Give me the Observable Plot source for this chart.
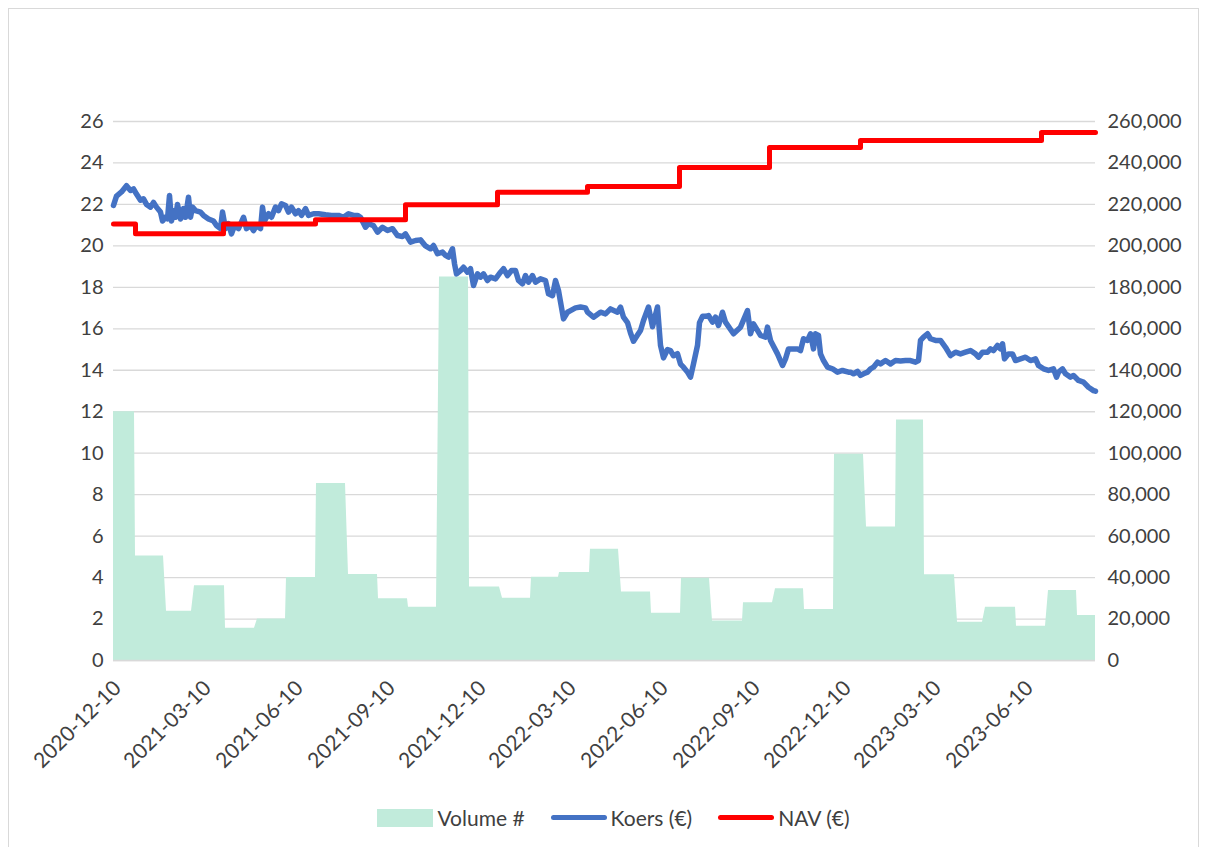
<!DOCTYPE html>
<html>
<head>
<meta charset="utf-8">
<script src="https://cdn.jsdelivr.net/npm/d3@7"></script>
<script src="https://cdn.jsdelivr.net/npm/@observablehq/plot@0.6"></script>
<style>
  html, body { margin: 0; padding: 0; background: #fff; }
  body { width: 1207px; height: 847px; position: relative; overflow: hidden; font-family: Lato, "Open Sans", sans-serif; }
  #frame { position: absolute; left: 8px; top: 8px; width: 1191px; height: 860px; border: 1px solid #d9d9d9; box-sizing: border-box; }
  #chart { position: absolute; left: 0; top: 0; }
  #legend { position: absolute; left: 10px; top: 805px; width: 1207px; display: flex; justify-content: center; align-items: center; font-size: 21px; color: #404040; }
  .item { display: flex; align-items: center; margin: 0 13px; }
  .sw { display: inline-block; width: 56px; margin-right: 4px; }
</style>
</head>
<body>
<div id="frame"></div>
<div id="chart"></div>
<div id="legend"></div>
<script>
// ---- Data ----
const domainStart = "2020-12-10";
const domainEnd = "2023-08-19";

const xTickDates = ["2020-12-10","2021-03-10","2021-06-10","2021-09-10","2021-12-10","2022-03-10",
  "2022-06-10","2022-09-10","2022-12-10","2023-03-10","2023-06-10"];

const yTicks = [0,2,4,6,8,10,12,14,16,18,20,22,24,26];

const volumeMonths = ["2020-12","2021-01","2021-02","2021-03","2021-04","2021-05","2021-06","2021-07",
  "2021-08","2021-09","2021-10","2021-11","2021-12","2022-01","2022-02","2022-03","2022-04","2022-05",
  "2022-06","2022-07","2022-08","2022-09","2022-10","2022-11","2022-12","2023-01","2023-02","2023-03",
  "2023-04","2023-05","2023-06","2023-07","2023-08"];
const volumeValues = [120000,50400,23800,36000,15600,20000,40000,85400,41500,29800,25700,185000,35400,
  30000,40100,42400,53700,33000,22800,39700,19000,27800,34600,24600,99500,64400,116000,41400,18500,
  25700,16500,33800,21700];

const navDates = ["2020-12-10","2021-01-01","2021-03-30","2021-06-30","2021-09-28","2021-12-29",
  "2022-03-29","2022-06-29","2022-09-27","2022-12-27","2023-06-26"];
const navValues = [21.05,20.58,21.05,21.26,21.98,22.59,22.87,23.78,24.75,25.08,25.47];

const koers = [
["2020-12-10",21.95],["2020-12-13",22.4],["2020-12-18",22.6],["2020-12-23",22.9],["2020-12-27",22.67],["2020-12-30",22.75],
["2021-01-02",22.5],["2021-01-06",22.2],["2021-01-09",22.27],["2021-01-12",22.0],["2021-01-16",21.87],["2021-01-19",22.1],["2021-01-22",21.87],["2021-01-26",21.63],["2021-01-28",21.2],["2021-01-31",21.38],
["2021-02-02",21.3],["2021-02-04",22.43],["2021-02-06",21.2],["2021-02-08",21.7],["2021-02-10",21.38],["2021-02-12",22.0],["2021-02-15",21.3],["2021-02-18",21.8],["2021-02-20",21.38],["2021-02-23",22.35],["2021-02-25",21.38],["2021-02-27",21.87],
["2021-03-02",21.7],["2021-03-07",21.63],["2021-03-10",21.47],["2021-03-15",21.3],["2021-03-20",21.2],["2021-03-23",20.98],["2021-03-27",20.83],["2021-03-29",21.63],
["2021-04-01",20.83],["2021-04-04",21.07],["2021-04-07",20.58],["2021-04-10",20.98],["2021-04-14",20.83],["2021-04-19",21.38],["2021-04-22",20.83],["2021-04-26",20.98],["2021-04-29",20.74],
["2021-05-02",20.98],["2021-05-06",20.83],["2021-05-08",21.87],["2021-05-10",21.2],["2021-05-14",21.55],["2021-05-17",21.38],["2021-05-21",21.87],["2021-05-24",21.7],["2021-05-27",22.03],["2021-05-31",21.95],
["2021-06-03",21.63],["2021-06-06",21.87],["2021-06-10",21.55],["2021-06-13",21.7],["2021-06-16",21.47],["2021-06-20",21.8],["2021-06-23",21.47],["2021-06-28",21.55],
["2021-07-03",21.55],["2021-07-10",21.5],["2021-07-16",21.47],["2021-07-23",21.47],["2021-07-28",21.38],
["2021-08-02",21.55],["2021-08-07",21.47],["2021-08-11",21.47],["2021-08-14",21.38],["2021-08-19",20.9],["2021-08-22",21.07],["2021-08-27",20.98],["2021-08-31",20.66],
["2021-09-05",20.9],["2021-09-10",20.74],["2021-09-15",20.83],["2021-09-20",20.5],["2021-09-25",20.45],["2021-09-28",20.58],
["2021-10-03",20.18],["2021-10-08",20.26],["2021-10-13",20.29],["2021-10-18",20.0],["2021-10-23",19.86],["2021-10-26",20.02],["2021-10-30",19.62],
["2021-11-04",19.7],["2021-11-07",19.54],["2021-11-10",19.46],["2021-11-14",19.86],["2021-11-16",19.14],["2021-11-18",18.65],["2021-11-22",18.81],["2021-11-25",18.97],["2021-11-29",18.73],
["2021-12-02",18.9],["2021-12-05",18.09],["2021-12-09",18.65],["2021-12-12",18.49],["2021-12-15",18.65],["2021-12-19",18.33],["2021-12-22",18.49],["2021-12-27",18.41],
["2022-01-01",18.73],["2022-01-04",18.9],["2022-01-08",18.57],["2022-01-12",18.81],["2022-01-16",18.81],["2022-01-19",18.33],["2022-01-23",18.17],["2022-01-26",18.57],["2022-01-29",18.25],
["2022-02-02",18.57],["2022-02-05",18.25],["2022-02-10",18.41],["2022-02-15",18.33],["2022-02-18",17.69],["2022-02-22",17.6],["2022-02-25",18.33],["2022-02-28",17.85],
["2022-03-05",16.48],["2022-03-09",16.8],["2022-03-12",16.88],["2022-03-17",17.01],["2022-03-22",17.05],["2022-03-27",17.01],["2022-03-29",16.8],
["2022-04-04",16.56],["2022-04-11",16.8],["2022-04-16",16.72],["2022-04-21",16.96],["2022-04-28",16.8],
["2022-05-01",17.05],["2022-05-04",16.56],["2022-05-08",16.3],["2022-05-11",15.8],["2022-05-14",15.4],["2022-05-18",15.7],["2022-05-21",15.92],["2022-05-24",16.4],["2022-05-29",17.05],
["2022-06-02",16.1],["2022-06-07",17.05],["2022-06-10",15.2],["2022-06-13",14.6],["2022-06-17",15.0],["2022-06-20",14.95],["2022-06-23",14.7],["2022-06-27",14.8],["2022-06-30",14.3],
["2022-07-03",14.15],["2022-07-07",13.91],["2022-07-10",13.67],["2022-07-13",14.31],["2022-07-17",15.2],["2022-07-19",16.3],["2022-07-22",16.6],["2022-07-25",16.6],["2022-07-28",16.64],
["2022-08-01",16.32],["2022-08-04",16.56],["2022-08-07",16.16],["2022-08-11",16.8],["2022-08-14",16.32],["2022-08-22",15.76],["2022-08-29",16.08],
["2022-09-05",16.88],["2022-09-08",15.76],["2022-09-11",16.24],["2022-09-18",15.68],["2022-09-23",15.6],["2022-09-25",16.08],["2022-09-28",15.44],
["2022-10-05",14.79],["2022-10-10",14.23],["2022-10-13",14.55],["2022-10-16",15.03],["2022-10-25",15.03],["2022-10-28",14.95],["2022-10-31",15.52],
["2022-11-04",15.44],["2022-11-07",15.76],["2022-11-10",15.03],["2022-11-12",15.76],["2022-11-15",15.68],["2022-11-17",14.79],["2022-11-20",14.47],["2022-11-24",14.15],["2022-11-29",14.07],
["2022-12-04",13.91],["2022-12-09",13.99],["2022-12-15",13.91],["2022-12-17",13.91],["2022-12-20",13.83],["2022-12-24",13.95],["2022-12-27",13.75],["2022-12-30",13.83],
["2023-01-03",13.91],["2023-01-06",14.07],["2023-01-09",14.15],["2023-01-13",14.39],["2023-01-16",14.31],["2023-01-21",14.47],["2023-01-26",14.31],["2023-01-31",14.47],
["2023-02-05",14.45],["2023-02-10",14.47],["2023-02-15",14.47],["2023-02-20",14.39],["2023-02-23",14.47],["2023-02-25",15.44],["2023-02-28",15.6],
["2023-03-04",15.76],["2023-03-07",15.52],["2023-03-12",15.44],["2023-03-17",15.44],["2023-03-22",15.11],["2023-03-27",14.71],
["2023-04-01",14.87],["2023-04-06",14.79],["2023-04-11",14.87],["2023-04-16",14.95],["2023-04-21",14.79],["2023-04-24",14.63],["2023-04-28",14.87],
["2023-05-03",14.87],["2023-05-06",15.03],["2023-05-09",14.95],["2023-05-13",15.2],["2023-05-16",15.03],["2023-05-18",15.28],["2023-05-20",14.55],["2023-05-24",14.79],["2023-05-28",14.79],["2023-05-31",14.47],
["2023-06-05",14.55],["2023-06-10",14.63],["2023-06-15",14.47],["2023-06-20",14.55],["2023-06-23",14.23],["2023-06-28",14.07],
["2023-07-03",13.99],["2023-07-08",14.07],["2023-07-11",13.67],["2023-07-13",13.91],["2023-07-17",14.07],["2023-07-20",13.83],["2023-07-25",13.67],["2023-07-28",13.75],
["2023-08-02",13.51],["2023-08-07",13.43],["2023-08-12",13.18],["2023-08-17",13.02],["2023-08-19",12.99]
];

const colors = { volume: "#c1ebdb", koers: "#4472c4", nav: "#ff0000", grid: "#d9d9d9", text: "#404040" };
const volumeScale = 10000; // right axis = left axis * 10000

// ---- Build tables ----
const parse = s => new Date(s + "T00:00:00Z");
const x0 = parse(domainStart), x1 = parse(domainEnd);

// volume: each month spans its first to last weekday (area connects across weekends)
const volPts = [];
volumeMonths.forEach((m, i) => {
  const [yy, mm] = m.split("-").map(Number);
  let a = new Date(Date.UTC(yy, mm - 1, 1));
  let b = new Date(Date.UTC(yy, mm, 0));
  while (a.getUTCDay() === 0 || a.getUTCDay() === 6) a = new Date(+a + 864e5);
  while (b.getUTCDay() === 0 || b.getUTCDay() === 6) b = new Date(+b - 864e5);
  if (a < x0) a = x0;
  if (b > x1) b = x1;
  volPts.push({date: a, v: volumeValues[i] / volumeScale});
  volPts.push({date: b, v: volumeValues[i] / volumeScale});
});

const koersData = koers.map(([d, v]) => ({date: parse(d), v}));
const navData = navDates.map((d, i) => ({date: parse(d), v: navValues[i]}));
navData.push({date: x1, v: navValues[navValues.length - 1]});

const chart = Plot.plot({
  width: 1207,
  height: 790,
  marginLeft: 113,
  marginRight: 112,
  marginTop: 121,
  marginBottom: 130,
  style: { fontFamily: "Lato, 'Open Sans', sans-serif", fontSize: "20px", color: colors.text, background: "transparent" },
  x: { type: "utc", domain: [x0, x1] },
  y: { domain: [0, 26] },
  marks: [
    Plot.ruleY(yTicks, { stroke: colors.grid, strokeWidth: 1.3 }),
    Plot.areaY(volPts, { x: "date", y: "v", fill: colors.volume, curve: "linear" }),
    Plot.ruleY([0], { stroke: colors.grid, strokeWidth: 1.3 }),
    Plot.line(koersData, { x: "date", y: "v", stroke: colors.koers, strokeWidth: 5.5, strokeLinejoin: "round", curve: "linear" }),
    Plot.line(navData, { x: "date", y: "v", stroke: colors.nav, strokeWidth: 5, curve: "step-after" }),
    Plot.axisY(yTicks, { anchor: "left", tickSize: 0, tickPadding: 10, label: null }),
    Plot.axisY(yTicks, { anchor: "right", tickSize: 0, tickPadding: 12, label: null,
      tickFormat: d => d3.format(",")(d * volumeScale) }),
    Plot.axisX(xTickDates.map(parse), { anchor: "bottom", tickSize: 0, tickPadding: 24, dx: 4, tickRotate: -45,
      fontSize: 21, tickFormat: d3.utcFormat("%Y-%m-%d"), label: null })
  ]
});
document.getElementById("chart").appendChild(chart);

// ---- Legend ----
const legend = document.getElementById("legend");
const items = [
  { label: "Volume #", type: "rect", color: colors.volume },
  { label: "Koers (€)", type: "line", color: colors.koers },
  { label: "NAV (€)", type: "line", color: colors.nav }
];
for (const it of items) {
  const el = document.createElement("div");
  el.className = "item";
  const sw = document.createElement("span");
  sw.className = "sw";
  if (it.type === "rect") { sw.style.height = "18px"; sw.style.background = it.color; }
  else { sw.style.height = "5px"; sw.style.borderRadius = "3px"; sw.style.background = it.color; }
  el.appendChild(sw);
  const t = document.createElement("span");
  t.textContent = it.label;
  el.appendChild(t);
  legend.appendChild(el);
}
</script>
</body>
</html>
